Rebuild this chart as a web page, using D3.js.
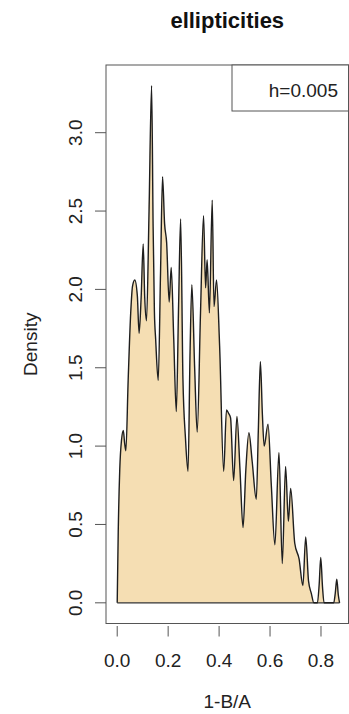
<!DOCTYPE html>
<html>
<head>
<meta charset="utf-8">
<script src="https://cdn.jsdelivr.net/npm/d3@7/dist/d3.min.js"></script>
<style>
  html, body { margin: 0; padding: 0; background: #fff; }
  svg { display: block; }
  text { font-family: "Liberation Sans", Arial, Helvetica, sans-serif; fill: #222; }
</style>
</head>
<body>
<svg id="chart" width="349" height="714"></svg>
<script>
// ---- data ----
const ellipticity = [0.000, 0.004, 0.010, 0.017, 0.024, 0.029, 0.034, 0.043, 0.053, 0.060,
  0.069, 0.079, 0.086, 0.094, 0.102, 0.108, 0.115, 0.125, 0.135, 0.141,
  0.146, 0.151, 0.161, 0.170, 0.178, 0.186, 0.194, 0.204, 0.212, 0.222,
  0.232, 0.241, 0.249, 0.258, 0.268, 0.278, 0.286, 0.293, 0.304, 0.314,
  0.327, 0.339, 0.347, 0.353, 0.362, 0.373, 0.380, 0.390, 0.402, 0.418,
  0.429, 0.437, 0.445, 0.457, 0.470, 0.482, 0.494, 0.505, 0.517, 0.530,
  0.546, 0.554, 0.562, 0.570, 0.577, 0.592, 0.605, 0.619, 0.635, 0.648,
  0.661, 0.672, 0.681, 0.697, 0.714, 0.729, 0.740, 0.751, 0.762, 0.772,
  0.786, 0.793, 0.799, 0.806, 0.812, 0.850, 0.856, 0.862, 0.868, 0.873];
const density = [0.00, 0.45, 0.85, 1.04, 1.10, 1.02, 0.97, 1.42, 1.85, 2.02,
  2.06, 1.96, 1.72, 1.95, 2.29, 1.95, 1.80, 2.50, 3.30, 2.40,
  1.86, 1.68, 1.42, 2.10, 2.72, 2.42, 2.30, 1.92, 2.14, 1.68,
  1.22, 1.90, 2.45, 1.43, 1.05, 0.84, 1.60, 2.03, 1.50, 1.09,
  1.85, 2.47, 2.01, 2.19, 1.85, 2.57, 1.89, 2.06, 1.64, 0.84,
  1.23, 1.21, 1.18, 0.78, 1.19, 0.85, 0.48, 0.85, 1.085, 0.90,
  0.66, 1.10, 1.54, 1.20, 1.00, 1.14, 0.75, 0.37, 0.96, 0.25,
  0.87, 0.52, 0.73, 0.38, 0.28, 0.11, 0.42, 0.14, 0.06, 0.00,
  0.00, 0.12, 0.29, 0.10, 0.00, 0.00, 0.06, 0.15, 0.05, 0.00];
const xTicks = [0.0, 0.2, 0.4, 0.6, 0.8];
const yTicks = [0.0, 0.5, 1.0, 1.5, 2.0, 2.5, 3.0];
const titleText = "ellipticities";
const xLabel = "1-B/A";
const yLabel = "Density";
const legendText = "h=0.005";

// ---- layout ----
const svg = d3.select("#chart");
const plot = { left: 106, right: 348.5, top: 65, bottom: 623.5 };
const x = d3.scaleLinear().domain([-0.044, 0.908]).range([plot.left, plot.right]);
const y = d3.scaleLinear().domain([-0.132, 3.432]).range([plot.bottom, plot.top]);

const pts = ellipticity.map((e, i) => [e, density[i]]);

// filled density polygon
const area = d3.area()
  .x(d => x(d[0])).y0(y(0)).y1(d => y(d[1]))
  .curve(d3.curveMonotoneX);
svg.append("path").datum(pts)
  .attr("d", area)
  .attr("fill", "#F5DEB3")
  .attr("stroke", "none");

// baseline of polygon
svg.append("line")
  .attr("x1", x(ellipticity[0])).attr("x2", x(ellipticity[ellipticity.length - 1]))
  .attr("y1", y(0)).attr("y2", y(0))
  .attr("stroke", "#333").attr("stroke-width", 1.2);

// density line
const line = d3.line().x(d => x(d[0])).y(d => y(d[1])).curve(d3.curveMonotoneX);
svg.append("path").datum(pts)
  .attr("d", line)
  .attr("fill", "none")
  .attr("stroke", "#1e1e1e")
  .attr("stroke-width", 1.4)
  .attr("stroke-linejoin", "round");

// plot box
svg.append("rect")
  .attr("x", plot.left).attr("y", plot.top)
  .attr("width", plot.right - plot.left).attr("height", plot.bottom - plot.top)
  .attr("fill", "none").attr("stroke", "#555").attr("stroke-width", 1);

// y axis ticks + labels
const yAxisG = svg.append("g");
yAxisG.selectAll("line").data(yTicks).enter().append("line")
  .attr("x1", plot.left - 11).attr("x2", plot.left)
  .attr("y1", d => y(d)).attr("y2", d => y(d))
  .attr("stroke", "#555").attr("stroke-width", 1);
yAxisG.selectAll("text").data(yTicks).enter().append("text")
  .attr("transform", d => `translate(82,${y(d)}) rotate(-90)`)
  .attr("text-anchor", "middle")
  .attr("font-size", 19)
  .text(d => d3.format(".1f")(d));

// x axis ticks + labels
const xAxisG = svg.append("g");
xAxisG.selectAll("line").data(xTicks).enter().append("line")
  .attr("x1", d => x(d)).attr("x2", d => x(d))
  .attr("y1", plot.bottom + 2.5).attr("y2", plot.bottom + 13)
  .attr("stroke", "#555").attr("stroke-width", 1);
xAxisG.selectAll("text").data(xTicks).enter().append("text")
  .attr("x", d => x(d)).attr("y", 667)
  .attr("text-anchor", "middle")
  .attr("font-size", 19)
  .text(d => d3.format(".1f")(d));

// axis titles
svg.append("text")
  .attr("x", (plot.left + plot.right) / 2).attr("y", 708)
  .attr("text-anchor", "middle").attr("font-size", 19)
  .text(xLabel);
svg.append("text")
  .attr("transform", `translate(37,${(plot.top + plot.bottom) / 2}) rotate(-90)`)
  .attr("text-anchor", "middle").attr("font-size", 19)
  .text(yLabel);

// title
svg.append("text")
  .attr("x", (plot.left + plot.right) / 2).attr("y", 28)
  .attr("text-anchor", "middle").attr("font-size", 22).attr("font-weight", "bold")
  .style("fill", "#111")
  .text(titleText);

// legend box
const leg = svg.append("g");
leg.append("rect")
  .attr("x", 232).attr("y", plot.top)
  .attr("width", plot.right - 232).attr("height", 46)
  .attr("fill", "#fff").attr("stroke", "#555").attr("stroke-width", 1);
leg.append("text")
  .attr("x", 338).attr("y", 97)
  .attr("text-anchor", "end").attr("font-size", 19)
  .text(legendText);
</script>
</body>
</html>
